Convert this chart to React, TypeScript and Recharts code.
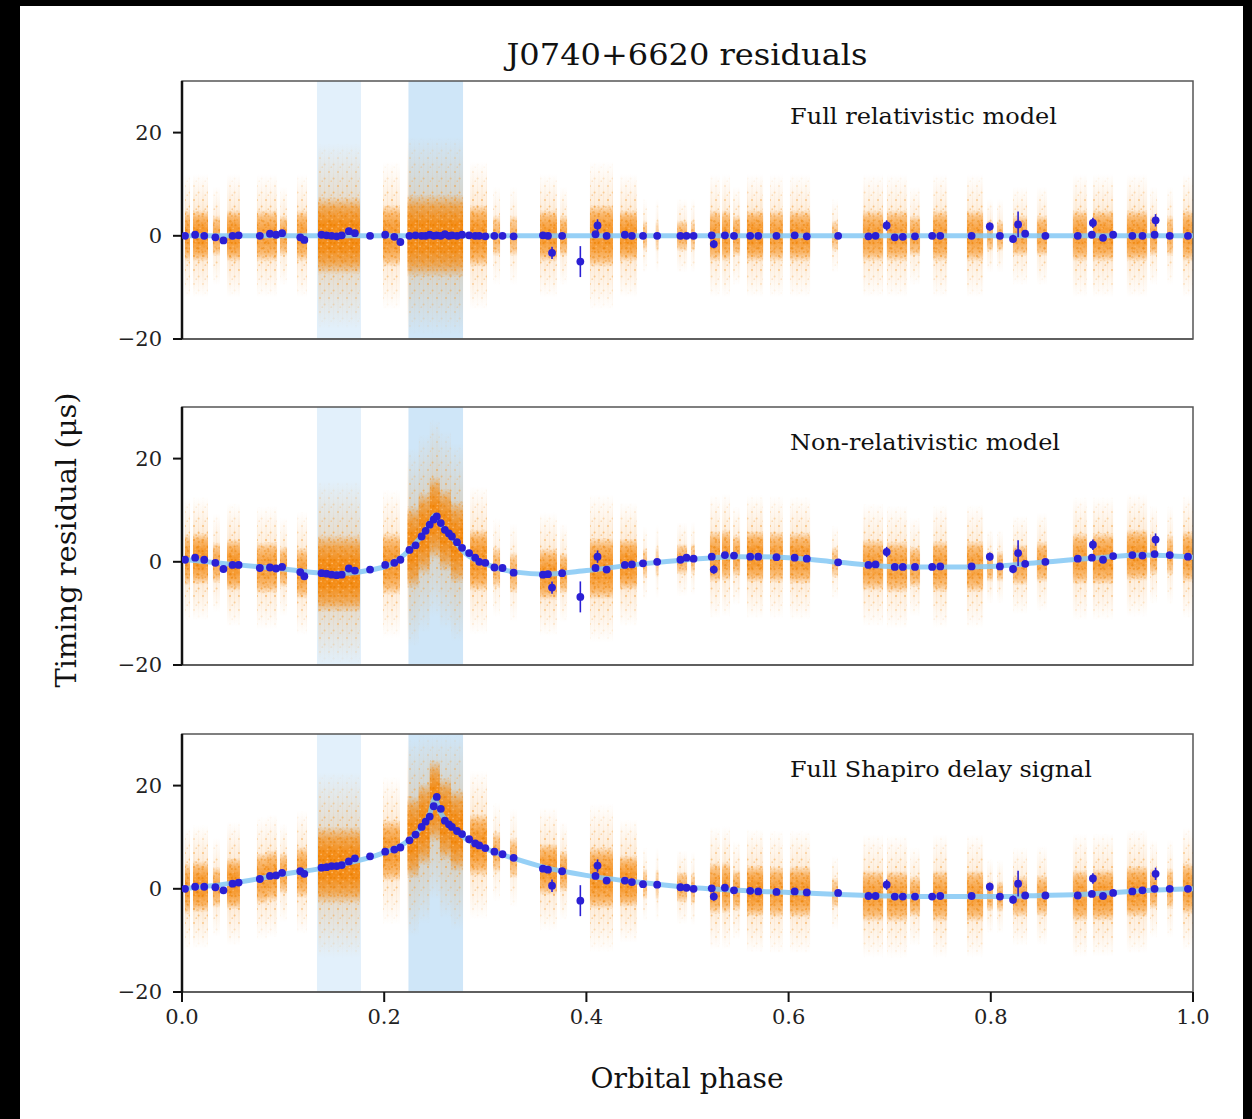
import React from 'react';
import { ComposedChart, Line, Scatter, ErrorBar, XAxis, YAxis, ReferenceArea } from 'recharts';

// ---------- data ----------
const FONT = 'DejaVu Serif';

const xTicks = [0, 0.2, 0.4, 0.6, 0.8, 1.0];
const yTicks = [-20, 0, 20];
const yDomain = [-20, 30];

const bandStart = [0.1335, 0.224];
const bandEnd = [0.177, 0.278];
const bandColor = ['#e2f0fb', '#cfe6f8'];

const panelLabels = ['Full relativistic model', 'Non-relativistic model', 'Full Shapiro delay signal'];

// binned (averaged) residuals, blue points
const pointPhase = [
  0.003, 0.013, 0.022, 0.033, 0.041, 0.05, 0.056, 0.077, 0.087, 0.093, 0.099, 0.117, 0.121,
  0.138, 0.143, 0.148, 0.153, 0.158, 0.165, 0.171, 0.186, 0.201, 0.21, 0.216,
  0.225, 0.231, 0.237, 0.241, 0.245, 0.249, 0.252, 0.256, 0.26, 0.264, 0.267, 0.272, 0.277,
  0.284, 0.29, 0.294, 0.3, 0.309, 0.317, 0.328, 0.357, 0.362, 0.366, 0.376, 0.394, 0.409, 0.411,
  0.42, 0.438, 0.445, 0.456, 0.47, 0.493, 0.499, 0.506, 0.524, 0.526, 0.537, 0.546, 0.562, 0.57,
  0.588, 0.606, 0.618, 0.649, 0.679, 0.686, 0.697, 0.705, 0.713, 0.725, 0.742, 0.75, 0.781,
  0.799, 0.809, 0.822, 0.827, 0.834, 0.854, 0.886, 0.9, 0.901, 0.911, 0.921, 0.94, 0.95,
  0.962, 0.963, 0.977, 0.995,
];
const pointErr = [
  0.5, 0.5, 0.5, 0.5, 0.6, 0.5, 0.5, 0.5, 0.5, 0.5, 0.5, 0.5, 0.6,
  0.4, 0.4, 0.4, 0.4, 0.4, 0.5, 0.5, 0.5, 0.5, 0.5, 0.6,
  0.4, 0.4, 0.4, 0.4, 0.4, 0.4, 0.4, 0.4, 0.4, 0.4, 0.4, 0.4, 0.4,
  0.4, 0.4, 0.4, 0.5, 0.5, 0.5, 0.5, 0.5, 0.5, 1.2, 0.5, 3.0, 0.5, 1.2,
  0.5, 0.5, 0.5, 0.5, 0.6, 0.5, 0.5, 0.5, 0.5, 0.8, 0.5, 0.5, 0.5, 0.5,
  0.5, 0.5, 0.5, 0.5, 0.5, 0.5, 1.0, 0.5, 0.5, 0.5, 0.5, 0.5, 0.5,
  0.8, 0.5, 0.8, 2.5, 0.6, 0.5, 0.5, 0.5, 1.0, 0.5, 0.5, 0.5, 0.5,
  0.5, 1.2, 0.5, 0.5,
];
const fullRelResid = [
  0, 0.2, 0, -0.3, -0.9, 0, 0.1, 0, 0.4, 0.2, 0.5, -0.3, -0.8,
  0.2, 0.1, 0, -0.1, 0.1, 0.9, 0.5, 0, 0.2, -0.2, -1.2,
  0, 0.1, 0, 0, 0.2, 0, 0.1, 0, 0.3, 0, 0.1, 0, 0.2,
  0.1, 0, 0, -0.1, 0, 0, -0.1, 0.1, 0, -3.3, 0, -5.0, 0.3, 2.0,
  0, 0.2, 0, 0, 0, 0, 0, 0, 0.1, -1.6, 0.1, 0, 0, 0,
  0, 0.1, -0.1, 0, -0.1, 0, 2.0, -0.3, -0.2, -0.1, 0, 0, 0,
  1.8, 0, -0.6, 2.2, 0.4, 0, 0, 0.2, 2.5, -0.4, 0.2, 0, 0,
  0.2, 3.0, 0, 0,
];
const nonRelResid = [
  0.4, 0.8, 0.4, -0.2, -1.4, -0.6, -0.6, -1.2, -1.1, -1.3, -1.0, -2.0, -2.8,
  -2.2, -2.3, -2.5, -2.6, -2.5, -1.3, -1.7, -1.5, -0.6, -0.2, 0.4,
  2.3, 3.2, 4.9, 6.0, 7.2, 8.2, 8.8, 7.5, 6.2, 5.5, 4.9, 3.8, 2.7,
  1.7, 0.8, 0, -0.2, -1.1, -1.2, -2.1, -2.5, -2.4, -5.0, -2.2, -6.8, -1.2, 1.0,
  -1.5, -0.6, -0.5, -0.3, 0, 0.4, 0.8, 0.6, 1.0, -1.5, 1.3, 1.2, 1.0, 1.0,
  0.9, 0.8, 0.6, -0.1, -0.6, -0.5, 1.9, -1.0, -1.0, -1.0, -1.0, -0.9, -0.9,
  1.0, -0.9, -1.4, 1.7, -0.4, 0, 0.6, 0.8, 3.3, 0.4, 1.1, 1.3, 1.2,
  1.5, 4.3, 1.3, 1.0,
];
const shapiroResid = [
  0, 0.4, 0.4, 0.3, -0.3, 1.0, 1.2, 1.9, 2.5, 2.6, 3.1, 3.4, 2.9,
  4.1, 4.2, 4.4, 4.4, 4.6, 5.3, 5.9, 6.3, 7.2, 7.6, 8.0,
  9.4, 10.5, 12.0, 13.0, 14.0, 16.0, 17.8, 15.5, 13.2, 12.5, 12.0, 11.2, 10.6,
  9.6, 8.8, 8.4, 7.9, 7.2, 6.7, 6.0, 3.9, 3.7, 0.6, 3.4, -2.3, 2.5, 4.5,
  1.6, 1.6, 1.3, 0.9, 0.8, 0.3, 0.2, 0, 0.1, -1.5, 0.2, -0.3, -0.4, -0.5,
  -0.6, -0.5, -0.7, -0.8, -1.4, -1.4, 0.8, -1.5, -1.5, -1.5, -1.5, -1.4, -1.4,
  0.4, -1.5, -2.1, 1.0, -1.3, -1.3, -1.3, -1.0, 2.0, -1.4, -0.8, -0.5, -0.3,
  0, 2.9, 0, 0,
];

// timing model curves (light blue)
const modelPhase = [
  0, 0.05, 0.1, 0.15, 0.2, 0.22, 0.235, 0.245, 0.25, 0.255, 0.265, 0.28, 0.3, 0.33, 0.36,
  0.4, 0.45, 0.5, 0.55, 0.6, 0.65, 0.7, 0.75, 0.8, 0.85, 0.9, 0.95, 1.0,
];
const fullRelModel = [
  0, 0, 0, 0, 0, 0, 0, 0, 0, 0, 0, 0, 0, 0, 0,
  0, 0, 0, 0, 0, 0, 0, 0, 0, 0, 0, 0, 0,
];
const nonRelModel = [
  0.5, -0.5, -1.4, -2.3, -1.0, 1.4, 4.5, 7.3, 9.0, 7.5, 5.2, 1.7, -0.4, -2.0, -2.4,
  -1.7, -0.5, 0.4, 1.0, 0.8, -0.1, -0.9, -1.0, -0.9, -0.1, 0.7, 1.3, 0.9,
];
const shapiroModel = [
  0, 1.1, 2.8, 4.4, 7.0, 8.8, 11.5, 14.5, 17.5, 15.0, 12.5, 9.8, 7.8, 5.8, 4.1,
  2.6, 1.3, 0.3, -0.3, -0.7, -1.1, -1.4, -1.5, -1.5, -1.3, -1.0, -0.4, 0,
];

// individual TOA clusters (orange)
const clusterPhase = [
  0.0054, 0.0183, 0.0341, 0.0509, 0.0791, 0.089, 0.1004, 0.1187, 0.1553, 0.2072,
  0.2285, 0.2395, 0.25, 0.2605, 0.272, 0.2933, 0.3111, 0.3279, 0.3625, 0.3774,
  0.4149, 0.4416, 0.458, 0.47, 0.4946, 0.5054, 0.5272, 0.5381, 0.5485, 0.5668,
  0.588, 0.6113, 0.6459, 0.6835, 0.7072, 0.725, 0.7498, 0.7844, 0.7992, 0.8091,
  0.8289, 0.8506, 0.8882, 0.911, 0.9446, 0.961, 0.9773, 0.995,
];
const clusterHalfWidth = [
  0.0025, 0.0074, 0.0035, 0.0064, 0.005, 0.005, 0.0035, 0.005, 0.0208, 0.0084,
  0.0055, 0.0055, 0.005, 0.0055, 0.006, 0.0084, 0.0035, 0.0035, 0.0084, 0.0035,
  0.0114, 0.0084, 0.002, 0.0015, 0.005, 0.002, 0.005, 0.004, 0.0035, 0.008,
  0.0064, 0.01, 0.003, 0.01, 0.01, 0.005, 0.007, 0.008, 0.003, 0.003,
  0.007, 0.005, 0.007, 0.01, 0.01, 0.0035, 0.003, 0.005,
];
const clusterSpread = [
  5, 5, 4, 5, 5, 5, 4, 5, 7.5, 6,
  8, 8, 8, 8, 8, 6, 4, 4, 5, 4,
  6, 5, 3, 3, 3, 3, 5, 5, 4, 5,
  5, 5, 3, 5, 5, 4, 5, 5, 3, 3,
  4, 4, 5, 5, 5, 4, 4, 5,
];
const clusterDensity = [
  0.75, 0.85, 0.65, 0.85, 0.75, 0.75, 0.65, 0.75, 1.0, 0.8,
  1.0, 1.0, 1.0, 1.0, 1.0, 0.85, 0.55, 0.55, 0.8, 0.65,
  0.85, 0.85, 0.45, 0.35, 0.55, 0.45, 0.75, 0.75, 0.65, 0.85,
  0.75, 0.8, 0.45, 0.75, 0.75, 0.65, 0.75, 0.75, 0.55, 0.55,
  0.65, 0.65, 0.75, 0.8, 0.8, 0.65, 0.55, 0.75,
];
const fullRelCenter = [
  0, 0, 0, 0, 0, 0, 0, 0, 0, 0,
  0, 0, 0, 0, 0, 0, 0, 0, 0, 0,
  0, 0, 0, 0, 0, 0, 0, 0, 0, 0,
  0, 0, 0, 0, 0, 0, 0, 0, 0, 0,
  0, 0, 0, 0, 0, 0, 0, 0,
];
const nonRelCenter = [
  0.4, 0.6, -0.2, -0.6, -1.2, -1.1, -1.0, -2.2, -2.3, -0.4,
  2.8, 5.5, 8.5, 6.2, 3.8, 0.3, -1.1, -2.1, -2.4, -2.2,
  -1.3, -0.5, -0.3, 0, 0.5, 0.6, 1.0, 1.3, 1.2, 1.0,
  0.9, 0.7, -0.1, -0.6, -1.0, -1.0, -0.9, -0.9, -0.9, -0.9,
  -0.6, 0, 0.6, 0.6, 1.3, 1.4, 1.3, 1.0,
];
const shapiroCenter = [
  0, 0.4, 0.3, 1.0, 2.0, 2.5, 3.0, 3.2, 4.6, 7.4,
  10.0, 12.5, 17.0, 13.5, 11.3, 8.5, 7.1, 6.0, 3.8, 3.4,
  2.1, 1.5, 0.9, 0.8, 0.3, 0, 0.1, 0.2, -0.3, -0.4,
  -0.6, -0.6, -0.8, -1.4, -1.5, -1.5, -1.4, -1.4, -1.4, -1.5,
  -1.5, -1.3, -1.3, -1.2, -0.5, 0, 0, 0,
];

// ---------- styles ----------
const BLUE = '#2b1fd4';
const MODEL = '#84c8f4';
const ORANGE = '#f5890f';
const HALO_FACTOR = 2.4;

const fmtX = (v: number) => v.toFixed(1);
const fmtY = (v: number) => String(v).replace('-', '\u2212');
const clampY = (v: number) => Math.max(yDomain[0], Math.min(yDomain[1], v));

const CHART_W = 1111;
const CHART_H = 318;
const MARGIN = { top: 10, right: 20, bottom: 0, left: 0 };

type PanelProps = {
  top: number;
  resid: number[];
  model: number[];
  centers: number[];
  showLabels: boolean;
};

function Dot(props: any) {
  const { cx, cy } = props;
  if (cx == null || cy == null) return null;
  return <circle cx={cx} cy={cy} r={3.9} fill={BLUE} />;
}

function clusterShape(kind: 'core' | 'halo', density: number) {
  return (p: any) => {
    const { x, y, width, height } = p;
    if (x == null || y == null || !(width > 0) || !(height > 0)) return <g />;
    if (kind === 'core') {
      return (
        <g>
          <rect x={x} y={y} width={width} height={height} fill="url(#orangeCore)" fillOpacity={density} />
          <rect x={x} y={y} width={width} height={height} fill="url(#speckle)" mask="url(#fadeCore)" opacity={density} />
        </g>
      );
    }
    return (
      <g>
        <rect x={x} y={y} width={width} height={height} fill="url(#orangeHalo)" fillOpacity={density * 0.3} />
        <rect x={x} y={y} width={width} height={height} fill="url(#haloPat)" mask="url(#fadeHalo)" opacity={Math.min(1, density + 0.2)} />
      </g>
    );
  };
}

function BandLayer({ top }: { top: number }) {
  return (
    <div style={{ position: 'absolute', left: 102, top: top - 10 }}>
      <ComposedChart width={CHART_W} height={CHART_H} margin={MARGIN}>
        <XAxis dataKey="x" type="number" domain={[0, 1]} ticks={xTicks} allowDataOverflow height={50} tick={false} tickLine={false} axisLine={false} />
        <YAxis dataKey="y" type="number" domain={yDomain} ticks={yTicks} allowDataOverflow width={80} tick={false} tickLine={false} axisLine={false} />
        {bandStart.map((b, i) => (
          <ReferenceArea key={'band' + i} x1={b} x2={bandEnd[i]} y1={yDomain[0]} y2={yDomain[1]} fill={bandColor[i]} fillOpacity={1} stroke="none" />
        ))}
      </ComposedChart>
    </div>
  );
}

function Panel({ top, resid, model, centers, showLabels }: PanelProps) {
  const pts = pointPhase.map((x, i) => ({ x, y: resid[i], e: pointErr[i] }));
  const line = modelPhase.map((x, i) => ({ x, y: model[i] }));
  return (
    <div style={{ position: 'absolute', left: 102, top: top - 10 }}>
      <ComposedChart width={CHART_W} height={CHART_H} margin={MARGIN}>
        <XAxis
          dataKey="x"
          type="number"
          domain={[0, 1]}
          ticks={xTicks}
          allowDataOverflow
          height={50}
          tickSize={10}
          tickMargin={7}
          tickFormatter={fmtX}
          tickLine={{ stroke: '#111', strokeWidth: 2 }}
          axisLine={{ stroke: '#555', strokeWidth: 1.5 }}
          tick={showLabels ? { fontSize: 21, fill: '#222', fontFamily: FONT } : false}
        />
        <YAxis
          dataKey="y"
          type="number"
          domain={yDomain}
          ticks={yTicks}
          allowDataOverflow
          width={80}
          tickSize={9}
          tickMargin={11}
          tickFormatter={fmtY}
          tickLine={{ stroke: '#111', strokeWidth: 2 }}
          axisLine={{ stroke: '#111', strokeWidth: 2.5 }}
          tick={{ fontSize: 21, fill: '#222', fontFamily: FONT }}
        />
        {clusterPhase.map((c, i) => (
          <ReferenceArea
            key={'halo' + i}
            x1={c - clusterHalfWidth[i]}
            x2={c + clusterHalfWidth[i]}
            y1={clampY(centers[i] - clusterSpread[i] * HALO_FACTOR)}
            y2={clampY(centers[i] + clusterSpread[i] * HALO_FACTOR)}
            stroke="none"
            shape={clusterShape('halo', clusterDensity[i])}
          />
        ))}
        {clusterPhase.map((c, i) => (
          <ReferenceArea
            key={'core' + i}
            x1={c - clusterHalfWidth[i]}
            x2={c + clusterHalfWidth[i]}
            y1={clampY(centers[i] - clusterSpread[i])}
            y2={clampY(centers[i] + clusterSpread[i])}
            stroke="none"
            shape={clusterShape('core', clusterDensity[i])}
          />
        ))}
        <ReferenceArea x1={0} x2={1} y1={yDomain[0]} y2={yDomain[1]} fill="none" stroke="#555" strokeWidth={1.5} />
        <Line data={line} dataKey="y" type="monotone" dot={false} stroke={MODEL} strokeWidth={5} strokeOpacity={0.85} isAnimationActive={false} />
        <Scatter data={pts} dataKey="y" shape={<Dot />} isAnimationActive={false}>
          <ErrorBar dataKey="e" direction="y" width={0} stroke={BLUE} strokeWidth={1.6} />
        </Scatter>
      </ComposedChart>
    </div>
  );
}

export default function App() {
  return (
    <div style={{ position: 'absolute', left: 0, top: 0, width: 1252, height: 1119, background: '#000', overflow: 'hidden' }}>
      <svg width={0} height={0} style={{ position: 'absolute' }}>
        <defs>
          <linearGradient id="orangeCore" x1="0" y1="0" x2="0" y2="1">
            <stop offset="0" stopColor={ORANGE} stopOpacity={0} />
            <stop offset="0.15" stopColor={ORANGE} stopOpacity={0.6} />
            <stop offset="0.35" stopColor={ORANGE} stopOpacity={0.95} />
            <stop offset="0.65" stopColor={ORANGE} stopOpacity={0.95} />
            <stop offset="0.85" stopColor={ORANGE} stopOpacity={0.6} />
            <stop offset="1" stopColor={ORANGE} stopOpacity={0} />
          </linearGradient>
          <linearGradient id="orangeHalo" x1="0" y1="0" x2="0" y2="1">
            <stop offset="0" stopColor={ORANGE} stopOpacity={0} />
            <stop offset="0.3" stopColor={ORANGE} stopOpacity={0.6} />
            <stop offset="0.5" stopColor={ORANGE} stopOpacity={0.8} />
            <stop offset="0.7" stopColor={ORANGE} stopOpacity={0.6} />
            <stop offset="1" stopColor={ORANGE} stopOpacity={0} />
          </linearGradient>
          <linearGradient id="whiteFadeCore" x1="0" y1="0" x2="0" y2="1">
            <stop offset="0" stopColor="#fff" stopOpacity={0.2} />
            <stop offset="0.5" stopColor="#fff" stopOpacity={1} />
            <stop offset="1" stopColor="#fff" stopOpacity={0.2} />
          </linearGradient>
          <linearGradient id="whiteFadeHalo" x1="0" y1="0" x2="0" y2="1">
            <stop offset="0" stopColor="#fff" stopOpacity={0} />
            <stop offset="0.35" stopColor="#fff" stopOpacity={0.95} />
            <stop offset="0.65" stopColor="#fff" stopOpacity={0.95} />
            <stop offset="1" stopColor="#fff" stopOpacity={0} />
          </linearGradient>
          <mask id="fadeCore" maskUnits="objectBoundingBox" maskContentUnits="objectBoundingBox" x="0" y="0" width="1" height="1">
            <rect x="0" y="0" width="1" height="1" fill="url(#whiteFadeCore)" />
          </mask>
          <mask id="fadeHalo" maskUnits="objectBoundingBox" maskContentUnits="objectBoundingBox" x="0" y="0" width="1" height="1">
            <rect x="0" y="0" width="1" height="1" fill="url(#whiteFadeHalo)" />
          </mask>
          <pattern id="speckle" width="11" height="9" patternUnits="userSpaceOnUse">
            <circle cx="1.5" cy="1.2" r="1.1" fill="#ec8000" />
            <circle cx="5.2" cy="2.6" r="1.0" fill="#fbb15a" />
            <circle cx="8.8" cy="0.9" r="1.1" fill="#ec8000" />
            <circle cx="3.1" cy="5.1" r="1.0" fill="#f39a30" />
            <circle cx="7.4" cy="6.2" r="1.2" fill="#e97f00" />
            <circle cx="10.1" cy="4.3" r="0.9" fill="#fcc27a" />
            <circle cx="0.8" cy="7.9" r="1.0" fill="#f3952a" />
            <circle cx="5.6" cy="8.3" r="0.9" fill="#fbb870" />
          </pattern>
          <pattern id="haloPat" width="9" height="14" patternUnits="userSpaceOnUse">
            <rect x="1.6" y="0" width="0.8" height="14" fill="#f6b36a" fillOpacity="0.35" />
            <rect x="6.2" y="0" width="0.8" height="14" fill="#f6b36a" fillOpacity="0.25" />
            <circle cx="2" cy="3" r="1.0" fill="#f39a2e" fillOpacity="0.85" />
            <circle cx="6.6" cy="9.5" r="1.0" fill="#f39a2e" fillOpacity="0.75" />
            <circle cx="4.3" cy="12.2" r="0.9" fill="#f7b060" fillOpacity="0.75" />
          </pattern>
        </defs>
      </svg>
      <div style={{ position: 'absolute', left: 20, top: 6, width: 1223, height: 1113, background: '#fff' }} />
      <BandLayer top={81} />
      <BandLayer top={407} />
      <BandLayer top={734} />
      <Panel top={81} resid={fullRelResid} model={fullRelModel} centers={fullRelCenter} showLabels={false} />
      <Panel top={407} resid={nonRelResid} model={nonRelModel} centers={nonRelCenter} showLabels={false} />
      <Panel top={734} resid={shapiroResid} model={shapiroModel} centers={shapiroCenter} showLabels={true} />
      <svg width={1252} height={1119} style={{ position: 'absolute', left: 0, top: 0, pointerEvents: 'none' }}>
        <text x={687} y={65} textAnchor="middle" fontFamily={FONT} fontSize={30} fill="#111" textLength={361} lengthAdjust="spacingAndGlyphs">
          J0740+6620 residuals
        </text>
        <text x={687} y={1088} textAnchor="middle" fontFamily={FONT} fontSize={27} fill="#111" textLength={193} lengthAdjust="spacingAndGlyphs">
          Orbital phase
        </text>
        <text transform="translate(76,540) rotate(-90)" x={0} y={0} textAnchor="middle" fontFamily={FONT} fontSize={27} fill="#111" textLength={295} lengthAdjust="spacingAndGlyphs">
          Timing residual (μs)
        </text>
        <text x={790} y={124} fontFamily={FONT} fontSize={22} fill="#111" textLength={267} lengthAdjust="spacingAndGlyphs">
          {panelLabels[0]}
        </text>
        <text x={790} y={450} fontFamily={FONT} fontSize={22} fill="#111" textLength={270} lengthAdjust="spacingAndGlyphs">
          {panelLabels[1]}
        </text>
        <text x={790} y={777} fontFamily={FONT} fontSize={22} fill="#111" textLength={302} lengthAdjust="spacingAndGlyphs">
          {panelLabels[2]}
        </text>
      </svg>
    </div>
  );
}
